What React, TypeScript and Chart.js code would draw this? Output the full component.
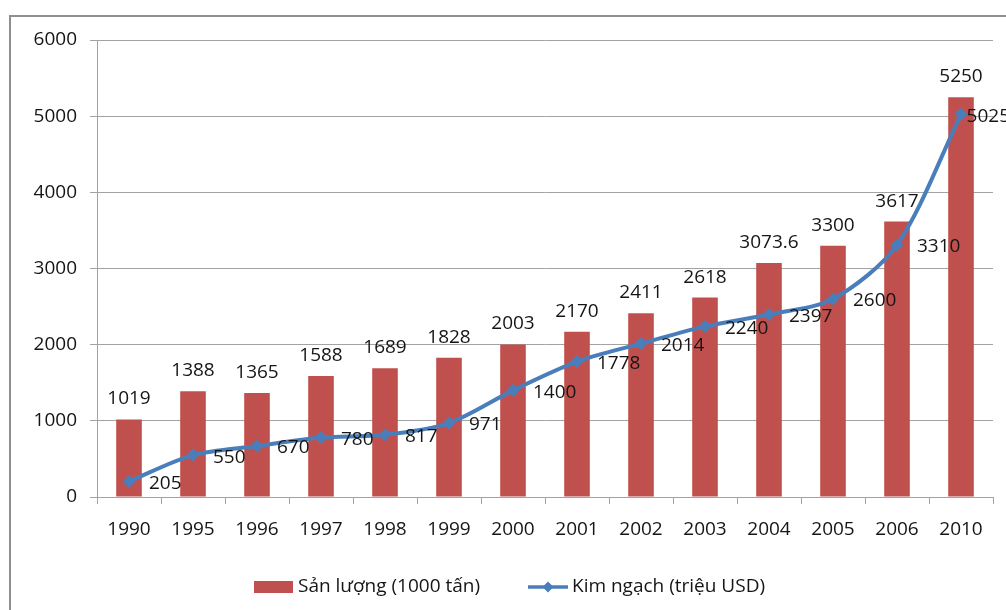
import React, { useEffect, useRef } from "react";
import { Chart, registerables } from "chart.js";

Chart.register(...registerables);

const categories = ["1990", "1995", "1996", "1997", "1998", "1999", "2000", "2001", "2002", "2003", "2004", "2005", "2006", "2010"];
const production = [1019, 1388, 1365, 1588, 1689, 1828, 2003, 2170, 2411, 2618, 3073.6, 3300, 3617, 5250];
const exportValue = [205, 550, 670, 780, 817, 971, 1400, 1778, 2014, 2240, 2397, 2600, 3310, 5025];
const productionLabel = "Sản lượng (1000 tấn)";
const exportLabel = "Kim ngạch (triệu USD)";
const yMin = 0;
const yMax = 6000;
const yStep = 1000;

const BAR_COLOR = "#C0504D";
const LINE_COLOR = "#4A7EBB";
const FONT = "'Open Sans', sans-serif";
const TEXT = "#151515";
const GRID = "#a3a3a3";

const labelsPlugin = {
  id: "valueLabels",
  afterDatasetsDraw(chart: any) {
    const ctx = chart.ctx;
    ctx.save();
    ctx.font = `19px ${FONT}`;
    ctx.fillStyle = TEXT;
    const barMeta = chart.getDatasetMeta(0);
    barMeta.data.forEach((el: any, i: number) => {
      ctx.textAlign = "center";
      ctx.textBaseline = "alphabetic";
      ctx.fillText(String(production[i]), el.x, el.y - 15);
    });
    const lineMeta = chart.getDatasetMeta(1);
    lineMeta.data.forEach((el: any, i: number) => {
      const txt = String(exportValue[i]);
      const w = ctx.measureText(txt).width;
      const x = Math.min(el.x + 20, 1010 - w);
      ctx.textAlign = "left";
      ctx.textBaseline = "middle";
      ctx.fillText(txt, x, el.y + 2);
    });
    ctx.restore();
  },
  afterDraw(chart: any) {
    const ctx = chart.ctx;
    ctx.save();
    const cy = 587;
    ctx.fillStyle = BAR_COLOR;
    ctx.fillRect(254, cy - 6, 39, 12);
    ctx.font = `19px ${FONT}`;
    ctx.fillStyle = TEXT;
    ctx.textAlign = "left";
    ctx.textBaseline = "middle";
    ctx.fillText(productionLabel, 298, cy);
    ctx.strokeStyle = LINE_COLOR;
    ctx.lineWidth = 3.5;
    ctx.beginPath();
    ctx.moveTo(528, cy);
    ctx.lineTo(568, cy);
    ctx.stroke();
    ctx.fillStyle = LINE_COLOR;
    ctx.beginPath();
    const r = 5.5;
    ctx.moveTo(548, cy - r);
    ctx.lineTo(548 + r, cy);
    ctx.lineTo(548, cy + r);
    ctx.lineTo(548 - r, cy);
    ctx.closePath();
    ctx.fill();
    ctx.fillStyle = TEXT;
    ctx.fillText(exportLabel, 572, cy);
    ctx.restore();
  },
};

export default function App() {
  const ref = useRef<HTMLCanvasElement | null>(null);
  useEffect(() => {
    if (!ref.current) return;
    const chart = new Chart(ref.current, {
      type: "bar",
      data: {
        labels: categories,
        datasets: [
          {
            type: "bar",
            label: productionLabel,
            data: production,
            backgroundColor: BAR_COLOR,
            borderWidth: 0,
            categoryPercentage: 1,
            barPercentage: 0.4,
            order: 2,
          } as any,
          {
            type: "line",
            label: exportLabel,
            data: exportValue,
            borderColor: LINE_COLOR,
            backgroundColor: LINE_COLOR,
            borderWidth: 4,
            tension: 0.3,
            pointStyle: "rectRot",
            pointRadius: 6.5,
            pointBorderWidth: 0,
            pointBackgroundColor: LINE_COLOR,
            order: 1,
          } as any,
        ],
      },
      options: {
        animation: false,
        responsive: false,
        devicePixelRatio: 1,
        layout: { padding: { left: 0, top: 40, right: 13, bottom: 63 } },
        plugins: { legend: { display: false }, tooltip: { enabled: false } },
        scales: {
          x: {
            offset: true,
            grid: { offset: true, drawOnChartArea: false, drawTicks: true, tickLength: 7, color: GRID },
            border: { display: true, color: GRID, width: 1 },
            ticks: { font: { family: FONT, size: 19 }, color: TEXT, padding: 14, maxRotation: 0 },
            afterFit(scale: any) {
              scale.height = 50;
            },
          },
          y: {
            min: yMin,
            max: yMax,
            grid: { color: GRID, tickLength: 7, drawTicks: true },
            border: { display: true, color: GRID, width: 1 },
            ticks: {
              stepSize: yStep,
              font: { family: FONT, size: 19 },
              color: TEXT,
              padding: 13,
              callback: (v: any) => String(v),
            },
            afterFit(scale: any) {
              scale.width = 97;
            },
          },
        },
      },
      plugins: [labelsPlugin],
    });
    return () => chart.destroy();
  }, []);
  return (
    <div style={{ position: "fixed", left: 0, top: 0, width: 1006, height: 610, overflow: "hidden", background: "#fff" }}>
      <canvas ref={ref} width={1006} height={610} style={{ position: "absolute", left: 0, top: 0, width: 1006, height: 610 }} />
      <div style={{ position: "absolute", left: 9, top: 15, width: 1200, height: 900, border: "2px solid #8f8f8f", pointerEvents: "none" }} />
    </div>
  );
}
